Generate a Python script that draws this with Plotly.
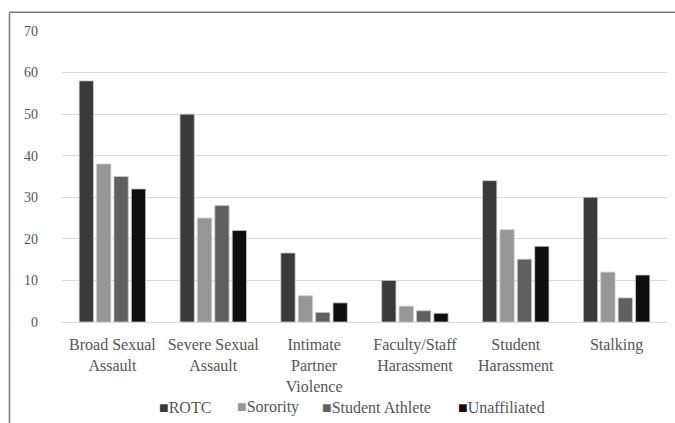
import plotly.graph_objects as go

categories = ["Broad Sexual Assault", "Severe Sexual Assault", "Intimate Partner Violence",
              "Faculty/Staff Harassment", "Student Harassment", "Stalking"]
tick_labels = ["Broad Sexual<br>Assault", "Severe Sexual<br>Assault", "Intimate<br>Partner<br>Violence",
               "Faculty/Staff<br>Harassment", "Student<br>Harassment", "Stalking"]
series_names = ["ROTC", "Sorority", "Student Athlete", "Unaffiliated"]
rotc = [58, 50, 16.6, 10, 34, 30]
sorority = [38, 25, 6.3, 3.8, 22.2, 12]
athlete = [35, 28, 2.3, 2.7, 15.1, 5.8]
unaffiliated = [32, 22, 4.6, 2.1, 18.2, 11.3]
colors = ["#3a3a3a", "#969696", "#606060", "#0e0e0e"]
y_ticks = [0, 10, 20, 30, 40, 50, 60, 70]

W, H = 675, 423
L, R, T, B = 62, 8, 31, 101
SERIF = "Liberation Serif"
TXT = "#555555"

fig = go.Figure()
for name, vals, col in zip(series_names, [rotc, sorority, athlete, unaffiliated], colors):
    fig.add_trace(go.Bar(x=categories, y=vals, name=name,
                         marker=dict(color=col, line=dict(color="#c8c8c8", width=0.8)),
                         showlegend=False))

def px_x(p):
    return (p - L) / (W - L - R)

def px_y(p):
    return (H - B - p) / (H - T - B)

# outer frame (left and top border visible)
fig.add_shape(type="line", xref="paper", yref="paper",
              x0=px_x(9.5), x1=px_x(9.5), y0=px_y(430), y1=px_y(12.3),
              line=dict(color="#7a7a7a", width=1.5))
fig.add_shape(type="line", xref="paper", yref="paper",
              x0=px_x(9.5), x1=px_x(690), y0=px_y(12.3), y1=px_y(12.3),
              line=dict(color="#7a7a7a", width=1.5))

# legend: one annotation per series (square + name)
legend_x = [157, 235, 320, 456]
for n, c, lx in zip(series_names, colors, legend_x):
    fig.add_annotation(text=f"<span style='color:{c}'>■</span>{n}", xref="paper", yref="paper",
                       x=px_x(lx), y=px_y(407), xanchor="left", yanchor="middle",
                       showarrow=False,
                       font=dict(family=SERIF, size=16, color=TXT))

fig.update_layout(
    width=W, height=H,
    margin=dict(l=L, r=R, t=T, b=B),
    paper_bgcolor="white", plot_bgcolor="white",
    barmode="group", bargap=0.31, bargroupgap=0.18,
    showlegend=False,
)
fig.update_xaxes(tickvals=categories, ticktext=tick_labels,
                 tickfont=dict(family=SERIF, size=16, color=TXT),
                 showgrid=False, showline=True, linecolor="#d9d9d9", linewidth=1,
                 ticks="", ticklabelstandoff=8)
fig.update_yaxes(range=[0, 70], tickvals=y_ticks,
                 tickfont=dict(family=SERIF, size=14, color=TXT),
                 showgrid=True, gridcolor="#d9d9d9", gridwidth=1,
                 zeroline=False, showline=False, ticks="", ticklabelstandoff=23)

fig.write_html("out.html")
